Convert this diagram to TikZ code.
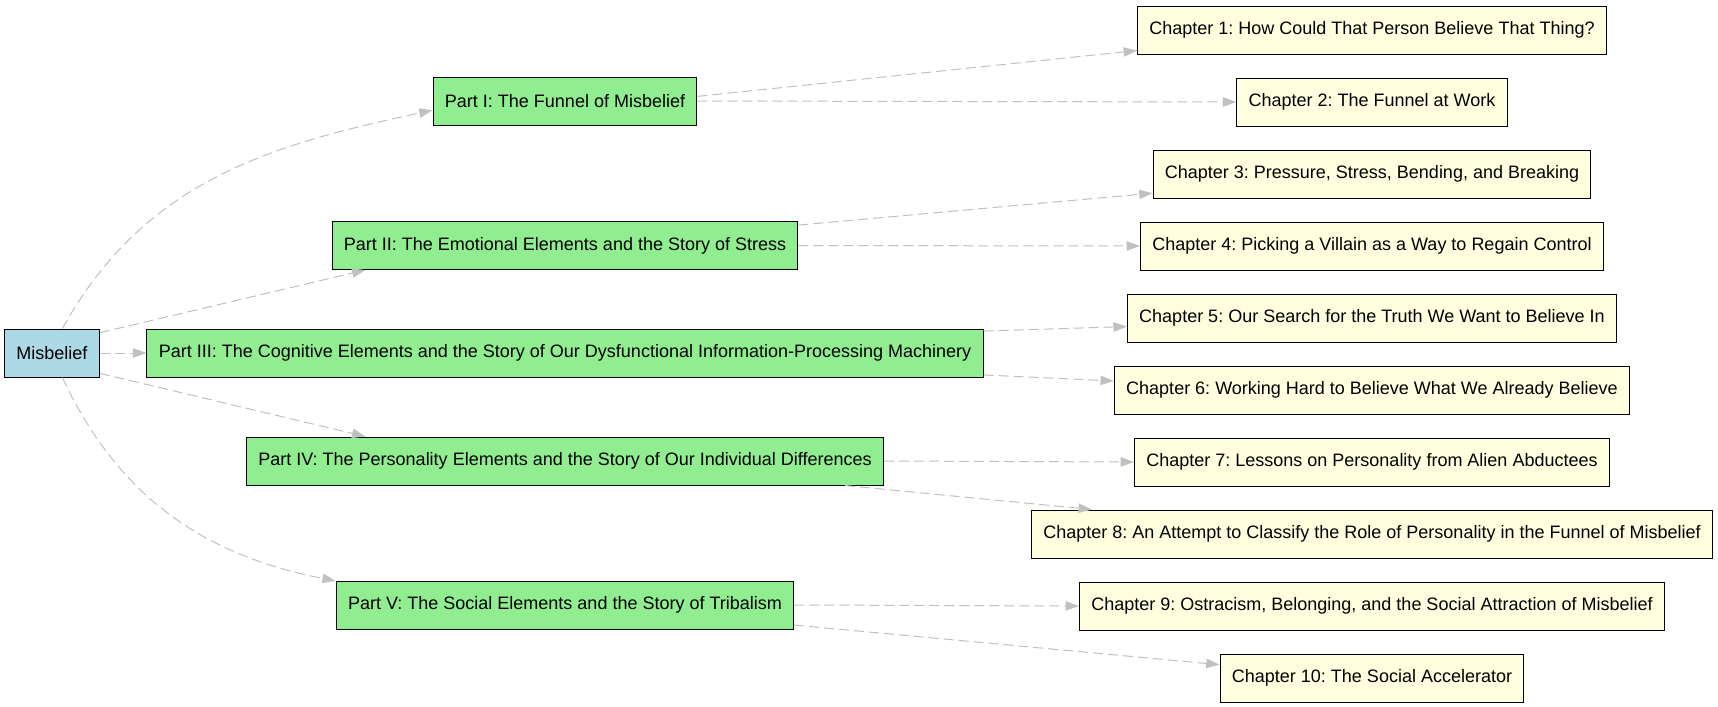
\documentclass[tikz,border=0pt]{standalone}
\usepackage{fontspec}
\setmainfont{Liberation Sans}
\usetikzlibrary{arrows.meta,positioning}

\definecolor{rootblue}{HTML}{ADD8E6}
\definecolor{partgreen}{HTML}{90EE90}
\definecolor{chapyellow}{HTML}{FFFFE0}
\definecolor{edgegray}{HTML}{C0C0C0}

\begin{document}
\frenchspacing
\begin{tikzpicture}[
    x=0.75pt, y=0.75pt,
    node distance=54pt,
    box/.style={rectangle, draw=black, line width=0.75pt, minimum height=36pt, inner xsep=8.9pt, font=\fontsize{13.5pt}{16pt}\selectfont},
    root/.style={box, fill=rootblue},
    part/.style={box, fill=partgreen},
    chap/.style={box, fill=chapyellow},
    edge/.style={-{Triangle[length=10pt, width=7pt]}, draw=edgegray, line width=0.75pt, dash pattern=on 7.5pt off 3.75pt}
]
    \useasboundingbox (0,0) rectangle (1718,-707);

    % root and parts
    \node[root] (mis) at (52,-353) {Misbelief};
    \node[part] (p1) at (565,-101) {Part I: The Funnel of Misbelief};
    \node[part] (p2) at (565,-245.5) {Part II: The Emotional Elements and the Story of Stress};
    \node[part] (p3) at (565,-353) {Part III: The Cognitive Elements and the Story of Our Dysfunctional Information-Processing Machinery};
    \node[part] (p4) at (565,-461) {Part IV: The Personality Elements and the Story of Our Individual Differences};
    \node[part] (p5) at (565,-605) {Part V: The Social Elements and the Story of Tribalism};

    % chapters
    \node[chap] (c1) at (1372,-30) {Chapter 1: How Could That Person Believe That Thing?};
    \node[chap, below of=c1] (c2) {Chapter 2: The Funnel at Work};
    \node[chap, below of=c2] (c3) {Chapter 3: Pressure, Stress, Bending, and Breaking};
    \node[chap, below of=c3] (c4) {Chapter 4: Picking a Villain as a Way to Regain Control};
    \node[chap, below of=c4] (c5) {Chapter 5: Our Search for the Truth We Want to Believe In};
    \node[chap, below of=c5] (c6) {Chapter 6: Working Hard to Believe What We Already Believe};
    \node[chap, below of=c6] (c7) {Chapter 7: Lessons on Personality from Alien Abductees};
    \node[chap, below of=c7] (c8) {Chapter 8: An Attempt to Classify the Role of Personality in the Funnel of Misbelief};
    \node[chap, below of=c8] (c9) {Chapter 9: Ostracism, Belonging, and the Social Attraction of Misbelief};
    \node[chap, below of=c9] (c10) {Chapter 10: The Social Accelerator};

    \draw[edge] (mis.67) to[out=61, in=192] (p1.184);
    \draw[edge] (mis.23) -- (p2.187);
    \draw[edge] (mis.east) -- (p3.west);
    \draw[edge] (mis.-23) -- (p4.173);
    \draw[edge] (mis.-67) to[out=-65, in=169] (p5.174);

    \draw[edge] (p1.2) -- (c1.185);
    \draw[edge] (p1.east) -- (c2.west);
    \draw[edge] (p2.5) -- (c3.185);
    \draw[edge] (p2.east) -- (c4.west);
    \draw[edge] (p3.3) -- (c5.182);
    \draw[edge] (p3.-3) -- (c6.178);
    \draw[edge] (p4.east) -- (c7.west);
    \draw[edge] (p4.-5) -- (c8.175);
    \draw[edge] (p5.east) -- (c9.west);
    \draw[edge] (p5.-5) -- (c10.175);
\end{tikzpicture}
\end{document}
